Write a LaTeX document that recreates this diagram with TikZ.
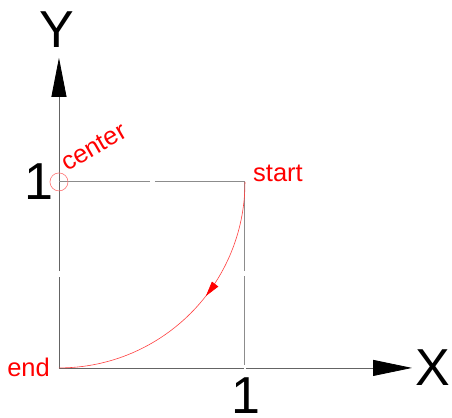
\documentclass[tikz,border=0pt]{standalone}
\usepackage{fontspec}
\setmainfont{Liberation Sans}
\usetikzlibrary{arrows.meta,decorations.markings}
\definecolor{axisgray}{RGB}{100,100,100}
\definecolor{boxgray}{RGB}{140,140,140}
\begin{document}
\begin{tikzpicture}[x=186pt,y=186pt,
    axis/.style={axisgray, line width=0.8pt},
    boxline/.style={boxgray, line width=1pt},
    bigfont/.style={font=\fontsize{52}{52}\selectfont},
    redlabel/.style={red, font=\fontsize{25.5}{25.5}\selectfont}]
    \useasboundingbox (-0.317,-0.269) rectangle (2.113,1.978);

    % Named points
    \coordinate (O) at (0,0);
    \coordinate (C) at (0,1);
    \coordinate (S) at (1,1);

    % Draw coordinate axes (with the small breaks of the line type)
    \draw[axis] (O) -- (0,0.489);
    \draw[axis, -{Triangle[length=39pt,width=15pt,color=black]}] (0,0.521) -- (0,1.667);
    \draw[axis] (O) -- (0.993,0);
    \draw[axis, -{Triangle[length=39pt,width=16pt,color=black]}] (1.003,0) -- (1.898,0);
    \node[bigfont] (ylab) at (-0.011,1.817) {Y};
    \node[bigfont] (xlab) at (2.011,0) {X};

    % Draw the unit square
    \draw[boxline] (C) -- (0.489,1);
    \draw[boxline] (0.516,1) -- (S) -- (1,0.521);
    \draw[boxline] (1,0.494) -- (1,0.016);

    % Tick labels
    \node[bigfont] (one x) at (1.005,-0.15) {1};
    \node[bigfont] (one y) at (-0.108,1.0) {1};

    % Draw the arc from start to end
    \draw[red!75, line width=0.6pt,
        decoration={markings, mark=at position 0.42 with {\arrow[red]{Triangle[length=15pt,width=8pt]}}},
        postaction={decorate}]
        (S) arc[start angle=0, end angle=-90, radius=1];

    % Mark the center
    \draw[red!55, line width=0.6pt] (C) circle (9pt);

    % Label the points
    \node[redlabel, anchor=base west, rotate=30, inner sep=0pt] (center) at (0.043,1.054) {center};
    \node[redlabel, anchor=base west, inner sep=0pt] (start) at (1.043,1.0) {start};
    \node[redlabel, anchor=base east, inner sep=0pt] (end) at (-0.048,-0.048) {end};
\end{tikzpicture}
\end{document}
